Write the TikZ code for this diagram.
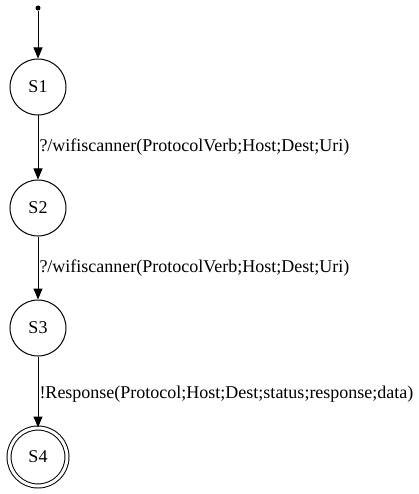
\documentclass[tikz,border=0pt]{standalone}
\usepackage{fontspec}
\setmainfont{Liberation Serif}
\usetikzlibrary{arrows.meta, positioning}
\tikzset{
    state/.style={draw, circle, line width=1pt, minimum size=56pt, inner sep=0pt, font=\fontsize{18pt}{20pt}\selectfont},
    accept/.style={state, double, double distance=3pt, minimum size=58pt},
    trans/.style={-{Triangle[length=11pt, width=9pt]}, line width=1pt},
    translabel/.style={right, inner sep=1pt, font=\fontsize{18pt}{20pt}\selectfont}
}

\begin{document}
\begin{tikzpicture}[x=1pt, y=-1pt]
    \useasboundingbox (0,0) rectangle (418,494);
    \node[circle, fill, minimum size=5pt, inner sep=0pt] (init) at (38,8) {};
    \node[state] (s1) at (38,87) {S1};
    \node[state] (s2) at (38,208) {S2};
    \node[state] (s3) at (38,328) {S3};
    \node[accept] (s4) at (38,457) {S4};

    \draw[trans] (init) -- (s1);
    \draw[trans] (s1) -- node[translabel] {?/wifiscanner(ProtocolVerb;Host;Dest;Uri)} (s2);
    \draw[trans] (s2) -- node[translabel] {?/wifiscanner(ProtocolVerb;Host;Dest;Uri)} (s3);
    \draw[trans] (s3) -- node[translabel, yshift=-2pt] {!Response(Protocol;Host;Dest;status;response;data)} (s4);
\end{tikzpicture}
\end{document}
